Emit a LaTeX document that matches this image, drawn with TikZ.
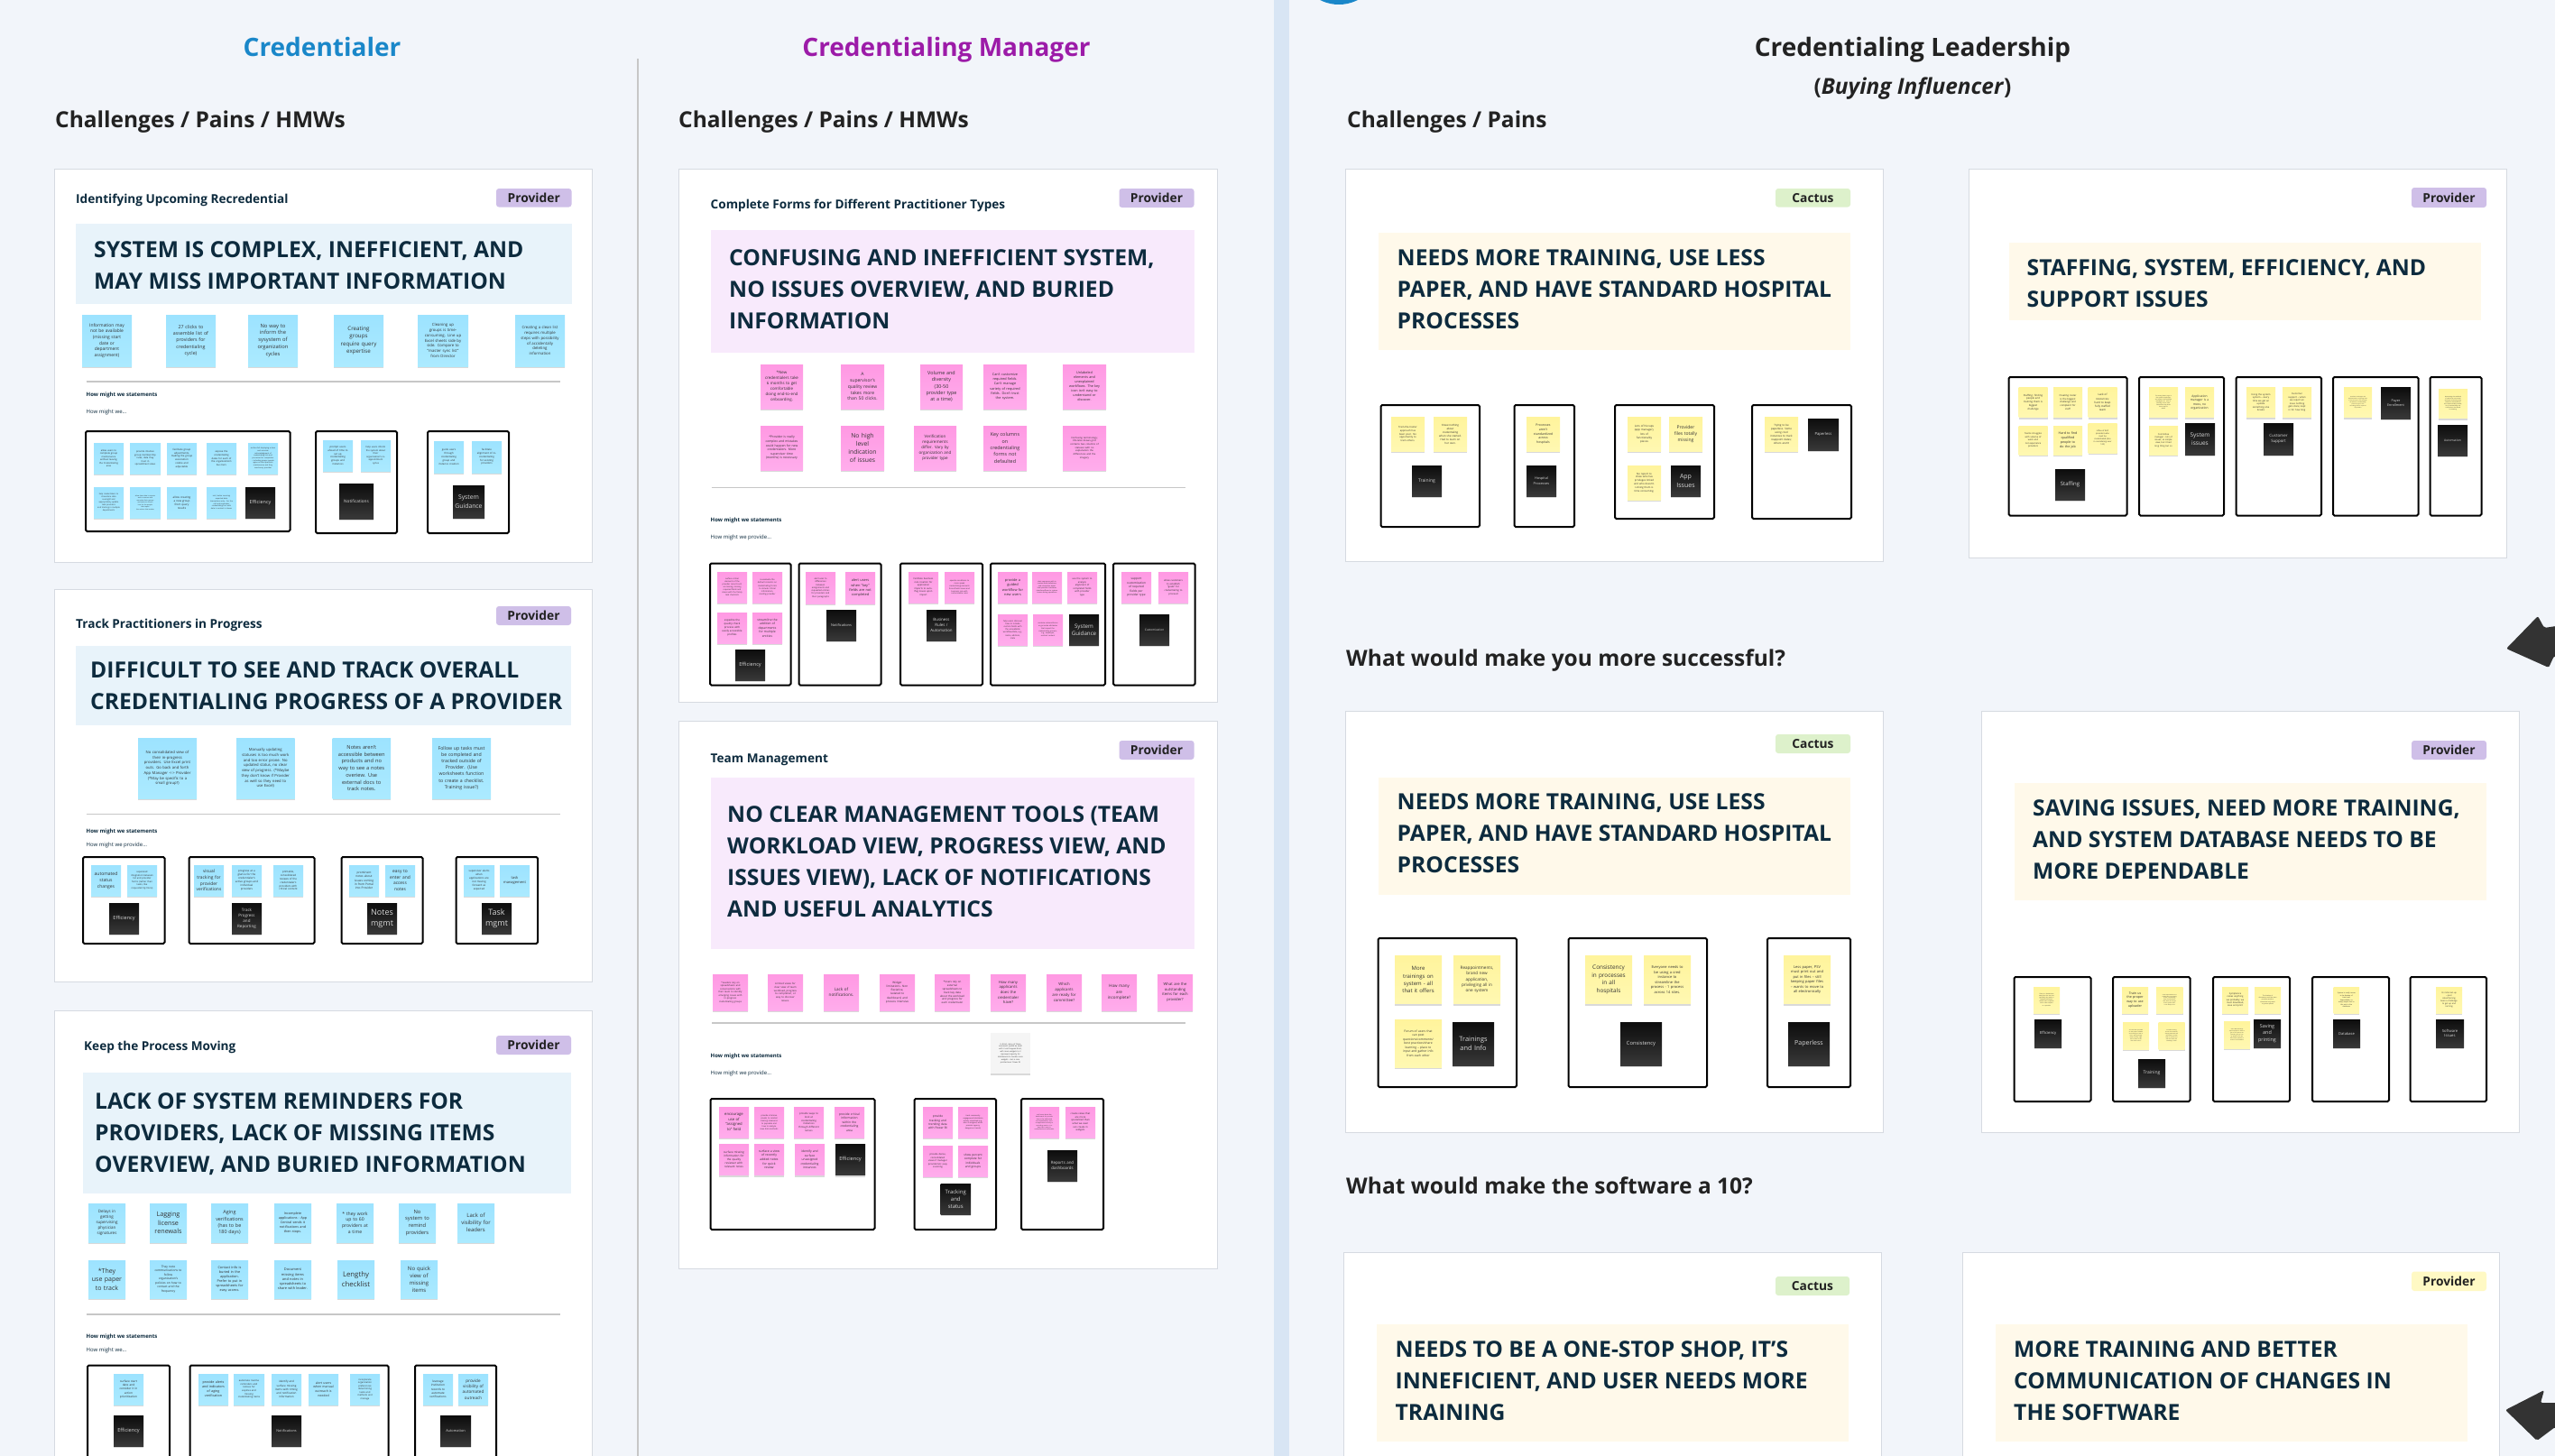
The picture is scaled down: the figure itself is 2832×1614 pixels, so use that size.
\documentclass[tikz,border=0pt]{standalone}
\usepackage{fontspec}
\setmainfont{Open Sans}
\usetikzlibrary{shadows}
\definecolor{pagebg}{HTML}{F2F5FA}
\definecolor{bandblue}{HTML}{D8E5F4}
\definecolor{cardline}{HTML}{D6DAE1}
\definecolor{navytext}{HTML}{0D2B3E}
\definecolor{heading}{HTML}{222222}
\definecolor{credblue}{HTML}{1A87C9}
\definecolor{credpurple}{HTML}{9C1BA8}
\definecolor{tagpurple}{HTML}{CFBFE8}
\definecolor{taggreen}{HTML}{DDF1CB}
\definecolor{tagyellow}{HTML}{FFF9C4}
\definecolor{banblue}{HTML}{E8F3FA}
\definecolor{banpink}{HTML}{F8EAFC}
\definecolor{bancream}{HTML}{FFF9EA}
\definecolor{bluetop}{HTML}{9DE3FF}
\definecolor{bluebot}{HTML}{ABEAFF}
\definecolor{pinktop}{HTML}{FF99E3}
\definecolor{pinkbot}{HTML}{FFADEC}
\definecolor{yellowtop}{HTML}{FFF49C}
\definecolor{yellowbot}{HTML}{FFF8B2}
\definecolor{notegrey}{HTML}{F5F5F5}
\tikzset{
  sized/.style 2 args={minimum width=#1pt, minimum height=#2pt},
  plate/.style={anchor=north west, inner sep=0pt, outer sep=0pt},
  card/.style={plate, fill=white, draw=cardline, line width=1pt},
  group/.style={plate, fill=white, draw=black, line width=2pt, rounded corners=1.5pt},
  tag/.style={plate, rounded corners=3pt, text=heading, font=\bfseries\fontsize{13.8}{16}\selectfont},
  head/.style={anchor=west, inner sep=0pt, align=left, text=navytext, font=\bfseries\fontsize{24.65}{35}\selectfont},
  cardtitle/.style={anchor=base west, inner sep=0pt, text=navytext, font=\bfseries\fontsize{13.6}{16}\selectfont},
  section/.style={anchor=base west, inner sep=0pt, text=heading, font=\bfseries\fontsize{24.5}{30}\selectfont},
  column/.style={anchor=base, inner sep=0pt, font=\bfseries\fontsize{28}{34}\selectfont},
  small/.style={anchor=west, inner sep=0pt, text=navytext, font=\fontsize{6}{8}\selectfont},
  shadowed/.style={drop shadow={shadow xshift=0pt, shadow yshift=-2pt, opacity=.15, fill=black}},
  note/.style={plate, align=center, text=black!80, shadowed},
  bluenote/.style={note, top color=bluetop, bottom color=bluebot},
  pinknote/.style={note, top color=pinktop, bottom color=pinkbot},
  yellownote/.style={note, top color=yellowtop, bottom color=yellowbot},
  greynote/.style={note, fill=notegrey},
  darknote/.style={note, top color=black!95, bottom color=black!78, text=white!85!black},
  rule/.style={draw=black!22, line width=1.2pt}
}
\newcommand{\notes}[3]{%
  \foreach \nx/\ny/\nw/\nh/\ns/\txt [count=\idx] in {#3} {
    \node[#1, sized={\nw}{\nh}, text width=\nw pt, font=\fontsize{\ns}{\fpeval{1.36*\ns}}\selectfont] (#2\idx) at (\nx,\ny) {\txt};
  }}
\begin{document}
\begin{tikzpicture}[x=1pt, y=-1pt]
    \path[use as bounding box, clip] (0,0) rectangle (2832,1614);
    \fill[pagebg] (0,0) rectangle (2832,1614);

    % Column separators
    \draw[rule, line width=1.5pt] (707,65) -- (707,1614);
    \fill[bandblue] (1411.5,0) rectangle (1428.5,1614);
    \fill[credblue] (1484,-41) circle (46);

    % Column titles
    \node[column, text=credblue] (credentialer) at (357,62) {Credentialer};
    \node[column, text=credpurple] (manager) at (1049,62) {Credentialing Manager};
    \node[column, text=heading] (leadership) at (2120,62) {Credentialing Leadership};
    \node[inner sep=0pt, text=heading, font=\bfseries\fontsize{24.4}{28}\selectfont] (buying) at (2120,98.5) {(\textit{Buying Influencer})};

    % Section labels
    \foreach \name/\x/\y/\label in {secA/61/141/{Challenges / Pains / HMWs}, secB/752/141/{Challenges / Pains / HMWs}, secC/1493/141/{Challenges / Pains}, secD/1492/738/{What would make you more successful?}, secE/1492/1323/{What would make the software a 10?}} {
        \node[section] (\name) at (\x,\y) {\label};
    }

    % Cards
    \foreach \name/\x/\y/\w/\h in {cardA/60.5/187/596/436, cardB/60.5/653/596/435, cardC/60.5/1120/596/600, cardD/752/187/597/591, cardE/752/799/597/607, cardF/1491/187/596/435, cardG/2182.5/187/596/431.5, cardH/1491/788/596/467, cardI/2196.5/788/595.5/467, cardJ/1489.5/1388/595.5/300, cardK/2175/1388/595.5/300} {
        \node[card, sized={\w}{\h}] (\name) at (\x,\y) {};
    }

    % Banners
    \foreach \name/\x/\y/\w/\h/\col in {banA/84/248/549.5/89/banblue, banB/84/716/549/88/banblue, banC/92/1189/540.5/134/banblue, banD/787.5/255/536/136/banpink, banE/787.5/861.5/536/190.5/banpink, banF/1528/258/523/130/bancream, banG/2227/268.5/523/86/bancream, banH/1528/861.5/523/130/bancream, banI/2233/868/523/130/bancream, banJ/1526/1468/523/130/bancream, banK/2212/1468/523/130/bancream} {
        \node[plate, fill=\col, sized={\w}{\h}] (\name) at (\x,\y) {};
    }

    % Banner statements
    \foreach \name/\x/\y/\label in {
        headA/104/294.5/{SYSTEM IS COMPLEX, INEFFICIENT, AND\\MAY MISS IMPORTANT INFORMATION},
        headB/100/760.5/{DIFFICULT TO SEE AND TRACK OVERALL\\CREDENTIALING PROGRESS OF A PROVIDER},
        headC/105/1257.5/{LACK OF SYSTEM REMINDERS FOR\\PROVIDERS, LACK OF MISSING ITEMS\\OVERVIEW, AND BURIED INFORMATION},
        headD/808/321/{CONFUSING AND INEFFICIENT SYSTEM,\\NO ISSUES OVERVIEW, AND BURIED\\INFORMATION},
        headE/806/955/{NO CLEAR MANAGEMENT TOOLS (TEAM\\WORKLOAD VIEW, PROGRESS VIEW, AND\\ISSUES VIEW), LACK OF NOTIFICATIONS\\AND USEFUL ANALYTICS},
        headF/1548.5/320.5/{NEEDS MORE TRAINING, USE LESS\\PAPER, AND HAVE STANDARD HOSPITAL\\PROCESSES},
        headG/2246.5/314/{STAFFING, SYSTEM, EFFICIENCY, AND\\SUPPORT ISSUES},
        headH/1548.5/924/{NEEDS MORE TRAINING, USE LESS\\PAPER, AND HAVE STANDARD HOSPITAL\\PROCESSES},
        headI/2253/930.5/{SAVING ISSUES, NEED MORE TRAINING,\\AND SYSTEM DATABASE NEEDS TO BE\\MORE DEPENDABLE},
        headJ/1546.5/1530.5/{NEEDS TO BE A ONE-STOP SHOP, IT'S\\INNEFICIENT, AND USER NEEDS MORE\\TRAINING},
        headK/2232/1530.5/{MORE TRAINING AND BETTER\\COMMUNICATION OF CHANGES IN\\THE SOFTWARE}} {
        \node[head] (\name) at (\x,\y) {\label};
    }

    % Card titles
    \foreach \name/\x/\y/\label in {titleA/84/225/{Identifying Upcoming Recredential}, titleB/84/696/{Track Practitioners in Progress}, titleC/93/1164/{Keep the Process Moving}, titleD/787.5/231.5/{Complete Forms for Different Practitioner Types}, titleE/787.5/845/{Team Management}} {
        \node[cardtitle] (\name) at (\x,\y) {\label};
    }

    % Tags
    \foreach \name/\x/\y/\w/\h/\col/\label in {tagA/550/209/83.5/20.5/tagpurple/Provider, tagB/550/672/83/21/tagpurple/Provider, tagC/550/1148/83/21/tagpurple/Provider, tagD/1240.5/209/83/21/tagpurple/Provider, tagE/1240.5/821/83/21/tagpurple/Provider, tagF/1968/209/83/20.5/taggreen/Cactus, tagG/2673/208/83/22/tagpurple/Provider, tagH/1968/814/83/21/taggreen/Cactus, tagI/2673/821/83/21/tagpurple/Provider, tagJ/1968/1415/82/21/taggreen/Cactus, tagK/2673/1409.5/83/21.5/tagyellow/Provider} {
        \node[tag, fill=\col, sized={\w}{\h}] (\name) at (\x,\y) {\label};
    }

    % Dividers
    \foreach \xa/\xb/\y in {95.5/621/423, 95.5/620.5/902.5, 95.5/620.5/1457, 788.5/1314/540.5, 789/1314/1134} {
        \draw[rule] (\xa,\y) -- (\xb,\y);
    }

    % How might we labels
    \foreach \name/\x/\y/\label in {hmwA/95.5/437.5/How might we statements, hmwB/95.5/922/How might we statements, hmwC/95.5/1482/How might we statements, hmwD/787.5/577/How might we statements, hmwE/787.5/1171/How might we statements} {
        \node[small, font=\bfseries\fontsize{6}{8}\selectfont] (\name) at (\x,\y) {\label};
    }
    \foreach \name/\x/\y/\label in {subA/95.5/457/{How might we\ldots}, subB/95.5/937/{How might we provide\ldots}, subC/95.5/1497/{How might we\ldots}, subD/787.5/595.5/{How might we provide\ldots}, subE/787.5/1190/{How might we provide\ldots}} {
        \node[small] (\name) at (\x,\y) {\label};
    }

    % Group frames
    \foreach \name/\x/\y/\w/\h in {
        grpAa/95/478/226.5/111, grpAb/350/478/90/113, grpAc/474/478/90/113,
        grpBa/92/950/90.5/96, grpBb/209.5/950/139/96, grpBc/378.5/950/90/96, grpBd/505.5/950/90.5/96,
        grpCa/97/1513.5/91/150, grpCb/210.5/1513.5/220/150, grpCc/460/1513.5/90/150,
        grpDa/787/624.5/89.5/135, grpDb/885.5/624.5/91/135, grpDc/998/624.5/91/135, grpDd/1098/624.5/127/135, grpDe/1234/624.5/90.5/135,
        grpEa/787.5/1218/182/145, grpEb/1013.5/1218/90.5/145, grpEc/1132/1218/91/145,
        grpFa/1530.5/449/109.5/135, grpFb/1678.5/449/66.5/135, grpFc/1790/449/110/126, grpFd/1942/449/110/126,
        grpGa/2226.5/418/131/153.5, grpGb/2371/418/94/153.5, grpGc/2478.5/418/94.5/153.5, grpGd/2586/418/94.5/153.5, grpGe/2693.5/418/57/153.5,
        grpHa/1527.5/1040/153.5/165, grpHb/1738.5/1040/153.5/165, grpHc/1959/1040/92/165,
        grpIa/2232.5/1083/85/138, grpIb/2342/1083/85.5/138, grpIc/2453/1083/85/138, grpId/2563/1083/85/138, grpIe/2671.5/1083/84.5/138} {
        \node[group, sized={\w}{\h}] (\name) at (\x,\y) {};
    }

    % Credentialer stickies
    \notes{bluenote}{noteA}{
        91/349/55/57/4.9/{Information may\\not be available\\(missing start\\date or\\department\\assignment)},
        184/349/55/57/5.3/{27 clicks to\\assemble list of\\providers for\\credentialing\\cycle)},
        275/349/55/57/5.8/{No way to\\inform the\\sysystem of\\organization\\cycles},
        370/349/55/57/6.2/{Creating\\groups\\require query\\expertise},
        463/349/56/57/4.3/{Cleaning up\\groups is time-\\consuming. Line up\\Excel sheets side by\\side. Compare to\\``master sync list''\\from Director},
        571/349/55/57/4.3/{Creating a clean list\\requires multiple\\steps with possibility\\of accidentally\\deleting\\information}}
    \notes{bluenote}{noteAa}{
        104/491/33/34/2.6/{allow users to\\complete group\\maintenance\\without leaving\\the Credentialing\\area},
        144/491/34/34/2.6/{provide intuitive\\group membership\\rules; data they\\trust in\\spreadsheet views},
        185/491/33/34/2.8/{facilitate group\\adjustments,\\making the group\\association\\visible and\\adjustable},
        229/491/33/34/2.7/{expose the\\credentialing\\dates for each of\\the organization's\\bus tiers},
        275/491/33/34/2/{surface full displaying a clear\\and accurate\\acknowledgment of\\credentialing lists and\\processes for completion\\-- including groups people\\agree on best practices\\maintenance and they\\need every provider},
        104/540/33/34/2.2/{help credentialers to\\streamline data\\oversight and\\appropriately update\\task providers\\and tracking in multiple\\departments},
        144/540/34/34/1.8/{allow clear data in reports\\and to remove and\\associate their groups\\and tasks to correct\\lists for the people\\that report\\the actions that matter},
        185/540/33/34/3/{allow creating\\a new group\\from query\\results},
        229/540/33/34/2/{visit, better sourcing\\exported data\\transactions only -- for the\\call and responder\\credentialing tool with\\data in context is shown}}
    \notes{darknote}{darkAa}{272/540/33/34/5.4/Efficiency}
    \notes{bluenote}{noteAb}{
        358/488/33/34/2.8/{prompt users\\ahead of time to\\set up\\credentialing\\groups and\\instances},
        400/488/33/34/2.6/{help users inform\\the system about\\their\\organization's re-\\appointment\\cycles}}
    \notes{darknote}{darkAb}{376/536/38/39/4.7/Notifications}
    \notes{bluenote}{noteAc}{
        481/489/33/35/2.8/{guide users\\through\\credentialing\\group and\\instance creation},
        523/489/33/35/2.8/{facilitate\\alignment of re-\\credentialing\\for existing\\providers}}
    \notes{darknote}{darkAc}{502/538/35/36/6.8/{System\\Guidance}}

    \notes{bluenote}{noteB}{
        153/818/65/67/4.2/{No consolidated view of\\their in-progress\\providers. Use Excel print\\outs. Go back and forth\\App Manager <-> Provider\\(*May be specific to a\\small group?)},
        262/818/64.5/67/4.2/{Manually updating\\statuses is too much work\\and too error prone. No\\updated status, no clear\\view of progress. (*Maybe\\they don't know if Provider\\as well so they need to\\use Excel)},
        368.5/818/64.5/67/5.7/{Notes aren't\\accessible between\\products and no\\way to see a notes\\overiew. Use\\external docs to\\track notes.},
        479/818/65/67/5.2/{Follow up tasks must\\be completed and\\tracked outside of\\Provider. (Use\\worksheets function\\to create a checklist.\\Training issue?)}}
    \notes{bluenote}{noteBa}{
        101/959/33/34/5/{automated\\status\\changes},
        141/959/33/34/2.6/{separated\\integration between\\list and provider\\forms (rather than\\tasks, like\\requested by Ilona)}}
    \notes{darknote}{darkBa}{121/1001/33/34/5.5/Efficiency}
    \notes{bluenote}{noteBb}{
        215/959/33/34/4.9/{visual\\tracking for\\provider\\verifications},
        257/959/33/34/3/{progress at a\\glance for the\\credentialer's\\active groups and\\individual\\providers},
        303/959/33/34/2.9/{printable,\\consolidated\\reviews of the\\credentialer's\\providers with\\critical content}}
    \notes{darknote}{darkBb}{257/1001/33/34/4.5/{Track\\Progress\\and\\Reporting}}
    \notes{bluenote}{noteBc}{
        387/959/33/34/3.2/{prominent\\notes about\\issues coming\\in from Portal\\into Provider},
        427/959/33/34/4.9/{easy to\\enter and\\access\\notes}}
    \notes{darknote}{darkBc}{407/1001/33/34/9/{Notes\\mgmt}}
    \notes{bluenote}{noteBd}{
        514/959/34/34/2.9/{supervisor alerts\\when\\applications are\\not moving\\forward as\\expected},
        554/959/33/34/4/{task\\management}}
    \notes{darknote}{darkBd}{534/1001/33/34/9/{Task\\mgmt}}

    \notes{bluenote}{noteC}{
        98/1334/41/43/4.5/{Delays in\\getting\\supervising\\physician\\signatures},
        166/1334/41/43/7.2/{Lagging\\license\\renewals},
        234/1334/41/43/5.4/{Aging\\verifications\\(has to be\\180 days)},
        304/1334/41/43/3.7/{Incomplete\\applications - App\\Central sends it\\notifications and\\then stops.},
        373/1334/41/43/5.1/{* they work\\up to 60\\providers at\\a time},
        442/1334/41/43/5.8/{No\\system to\\remind\\providers},
        507/1334/41/43/6/{Lack of\\visibility for\\leaders},
        98/1397/41/42/7/{*They\\use paper\\to track},
        166/1397/41/42/3.3/{They note\\communications to\\follow\\organization's\\policies on how to\\contact and the\\frequency},
        234/1397/41/42/3.8/{Contact info is\\buried in the\\application.\\Prefer to put in\\spreadsheets for\\easy access.},
        304/1397/41/42/3.9/{Document\\missing items\\and notes in\\spreadsheets to\\share with leader.},
        374/1397/41/42/7.8/{Lengthy\\checklist},
        444/1397/41/42/6/{No quick\\view of\\missing\\items}}
    \notes{bluenote}{noteCa}{126/1523/33/34/3.2/{surface start\\date and\\consider it in\\action\\prioritization}}
    \notes{darknote}{darkCa}{126/1569/33/34/5.6/Efficiency}
    \notes{bluenote}{noteCb}{
        220/1523/33/34/3.7/{provide alerts\\and indicators\\of aging\\verification},
        259/1523/34/34/2.7/{automate routine\\reminders and\\notices for\\expiries and\\missing\\credentialing items},
        301/1523/33/34/3/{identify and\\surface missing\\items with timing\\and notification\\information},
        342/1523/33/34/3.5/{alert users\\when manual\\outreach is\\needed},
        388/1523/33/34/2.6/{incorporate\\organization\\preferences\\determining\\tasks and\\methods and\\manage}}
    \notes{darknote}{darkCb}{301/1569/33/34/3.8/Notifications}
    \notes{bluenote}{noteCc}{
        469/1523/33/34/3.2/{leverage\\institution\\records to\\automate\\verifications},
        508/1523/33/34/4.6/{provide\\visibility of\\automated\\outreach}}
    \notes{darknote}{darkCc}{488/1569/34/34/3.9/Automation}

    % Manager stickies
    \notes{pinknote}{noteD}{
        843/404/47/49/4.4/{*New\\credentialers take\\6 months to get\\comfortable\\doing end-to-end\\onboarding.},
        932/404/48/49/5/{A\\supervisor's\\quality review\\takes more\\than 50 clicks.},
        1020/404/47/49/5.4/{Volume and\\diversity\\(30-50\\provider type\\at a time)},
        1090/404/48/49/3.8/{Can't customize\\required fields.\\Can't manage\\variety of required\\fields. Don't trust\\the system.},
        1178/404/48/49/3.7/{Unlabeled\\elements and\\unexplained\\workflows. The key\\icon isn't easy to\\understand or\\discover.},
        843/472/47/49/3.4/{*Provider is really\\complex and mistakes\\could happen for new\\credentialers. More\\supervisor time\\(months) is necessary},
        932/472/48/49/6.8/{No high\\level\\indication\\of issues},
        1013/472/47/49/4.5/{Verification\\requirements\\differ. Vary by\\organization and\\provider type},
        1090/472/48/49/5.4/{Key columns\\on\\credentialing\\forms not\\defaulted},
        1178/472/48/49/2.7/{Confusing terminology;\\Ellorelse knows grid\\contains two columns of\\statuses with no\\explanation the\\differences and the\\imagery}}
    \notes{pinknote}{noteDa}{
        795/634/33/34/2.2/{surface critical\\elements of the\\provider record such\\as missing, missing\\required fields and\\issues with the family\\task checklists},
        834/634/33/34/2.3/{re-evaluate the\\default columns on\\credentialing forms\\to include critical\\information,\\reading provider},
        795/679/33/34/2.9/{expedite the\\quality check\\process with\\easily accessible\\profiles},
        834/679/33/34/3.3/{streamline the\\addition of\\departments\\for multiple\\entities}}
    \notes{darknote}{darkDa}{815/720/33/34/5.6/Efficiency}
    \notes{pinknote}{noteDb}{
        893/634.5/33/34.5/2.4/{alert user to\\differences\\between\\assignments and\\requested entries\\for providers and\\their paragraphs},
        937/634.5/33/34.5/3.9/{alert users\\when ``key''\\fields are not\\completed}}
    \notes{darknote}{darkDb}{916/676/33/34/3.9/Notifications}
    \notes{pinknote}{noteDc}{
        1007/634/33/34/2.6/{facilitate business\\rule creation for\\application\\imports to auto-\\flag issues upon\\import},
        1047/634/33/34/2.1/{operate conditions to\\more speak\\credentialing elements\\forms/fields issues and\\business rule with\\customizable rules}}
    \notes{darknote}{darkDc}{1027/676/33/34/4.4/{Business\\Rules /\\Automation}}
    \notes{pinknote}{noteDd}{
        1106/634/33/34/3.9/{provide a\\guided\\workflow for\\new users},
        1144/634/33/34/1.9/{alert new users with in\\context field definitions\\and interactive about\\how provider interfaces\\interfaces/flows to system\\issues during operations},
        1183/634/33/34/2.6/{use the system to\\analyze\\alignment of\\completed fields\\with provider\\type},
        1106/681/33/34/2.3/{help users discover\\how to include\\custom fields with\\the unavailable\\workflow/data, e.g.,\\name, address,\\state},
        1145/681/33/34/2/{combine column/forms\\or go inside attributes\\that impact the\\credentialing process,\\e.g., employee,\\contract content}}
    \notes{darknote}{darkDd}{1185/681/33/34/6.2/{System\\Guidance}}
    \notes{pinknote}{noteDe}{
        1243/634/33/34/3.2/{support\\customization\\of required\\fields per\\provider type},
        1284/634/33/34/2.7/{allow customers\\to establish\\``goals'' for\\credentialing to\\proceed}}
    \notes{darknote}{darkDe}{1263/681/33/34/3.2/Customization}

    \notes{pinknote}{noteE}{
        790/1080/39/40/2.6/{*Leaders rely on\\spreadsheets and\\conversations with\\their team to identify\\emerging issues with\\in-progress\\credentialing groups},
        851/1080/39/40/2.8/{Limited views for\\clear view of team\\workload, progress\\to completion, or\\way to discover\\issues.},
        913/1080/39/40/4.6/{Lack of\\notifications.},
        975/1080/39/40/3.1/{Widget\\limitations. Non\\flexiative,\\isolated to\\dashboard, and\\process intensive},
        1036/1080/39/40/2.9/{*Users rely on\\external\\spreadsheets to\\track key data\\about the workload\\and progress for\\each credentialer},
        1098/1080/39/40/4.2/{How many\\applicants\\does the\\credentialer\\have?},
        1160/1080/39/40/4.3/{Which\\applicants\\are ready for\\committee?},
        1221/1080/39/40/4.5/{How many\\are\\incomplete?},
        1283/1080/39/40/4.2/{What are the\\outstanding\\items for each\\provider?}}
    \notes{greynote}{noteEn}{1098/1145/44/45/2.1/{In Ernst, many of those\\comments would be dealt\\with it via Dropped Ernst,\\with more widgets to it\\improved capacity for\\dashboards to handle more\\widgets -- but a core\\pointed over Power BI}}
    \notes{pinknote}{noteEa}{
        797/1227/33/34/4.2/{encourage\\use of\\``assigned\\to'' field},
        836/1227/33/34/2.2/{provide intensive\\visuals to combat\\training measures\\to populate and\\how to analyze\\view data methods},
        880/1227/33/34/2.8/{provide ways to\\look at\\credentialing\\instances\\through different\\lenses},
        925/1227/33/34/3.3/{provide critical\\information\\within the\\credentialing\\area},
        797/1268/33/34.5/3.1/{surface missing\\information for\\the quality\\reviewer with\\relevant notes},
        836/1268/33/34.5/3.4/{surface a view\\of recently\\added notes\\for quick\\review},
        881/1268/33/34.5/3.3/{identify and\\surface\\unassigned\\credentialing\\instances}}
    \notes{darknote}{darkEa}{926/1268/33/34.5/5.6/Efficiency}
    \notes{pinknote}{noteEb}{
        1023/1227/33/34/3.2/{provide\\tracking and\\trending data\\with Power BI},
        1062/1227/33/34/2/{track community\\engagement/stats/data\\activity visualized (e.g.,\\who is assigned, who's\\provider agency,\\dangerous trends)},
        1023/1270/33/34/2.6/{provide dense,\\consolidated\\views if manager\\provider/etc easy\\scanning},
        1062/1270/33/34/3.2/{show percent\\complete for\\individuals\\and groups}}
    \notes{darknote}{darkEb}{1042.5/1312/33.5/34/6/{Tracking\\and\\status}}
    \notes{pinknote}{noteEc}{
        1141/1227/33/34/1.7/{add more about the\\dashboards for provide\\stats to be addressed\\and visualization, such\\as application activity to\\spending metrics, in a\\way that is easy to\\understand and actionable},
        1181/1227/33/34/2.7/{create views that\\are more\\specialized than\\what we even\\can create in\\widgets}}
    \notes{darknote}{darkEc}{1161/1275/33/34/4.4/{Reports and\\dashboards}}

    % Leadership stickies
    \notes{yellownote}{noteFa}{
        1542/462.5/37/37.5/2.7/{Train-the-trainer\\approach has\\been poor. No\\opportunity to\\train others.},
        1589/462.5/37/37.5/2.9/{Knew nothing\\about\\credentialing\\when she started.\\Had to learn on\\her own.}}
    \notes{darknote}{darkFa}{1565/516/33/34/5/Training}
    \notes{yellownote}{noteFb}{1692/462.5/37/37.5/3.5/{Processes\\aren't\\standardized\\across\\hospitals}}
    \notes{darknote}{darkFb}{1692/516/33/34/3.8/{Hospital\\Processes}}
    \notes{yellownote}{noteFc}{
        1804/462.5/37/37.5/3/{Lots of hiccups\\(app manager),\\lots of\\functionality\\pieces},
        1850/462.5/37/37.5/5/{Provider\\files totally\\missing},
        1804/516/37/38/2.8/{No report to\\show who has\\privileges linked\\and who doesn't.\\Linking them is\\time consuming.}}
    \notes{darknote}{darkFc}{1852/516/33/34/7/{App\\Issues}}
    \notes{yellownote}{noteFd}{1956/462.5/37/37.5/2.9/{Trying to be\\paperless. Some\\using cred\\instances to track\\reappoint dates;\\others aren't}}
    \notes{darknote}{darkFd}{2004/464/34/35/4.2/Paperless}

    \notes{yellownote}{noteGa}{
        2237.5/429.5/32/33/2.8/{Staffing: finding\\people and\\training them is\\biggest\\challenge},
        2276/429.5/32/33/2.7/{Creating roster\\is the biggest\\challenge and\\complaint for\\staff},
        2314.5/429.5/32/33/3/{Lack of\\resources;\\hard to keep\\fully staffed\\team},
        2237.5/472/32/32/2.5/{Teams struggles\\with volume of\\work and\\not experience\\providers},
        2276/472/32/32/3.6/{Hard to find\\qualified\\people to\\do the job},
        2314.5/469/32/33/2.2/{Influx of EAP\\providers who\\must be\\credentialed (also\\in considering over\\120)}}
    \notes{darknote}{darkGa}{2278/520/33/34/6/Staffing}
    \notes{yellownote}{noteGb}{
        2382/429.5/32/33/1.5/{Too many places to go in\\the system; duplication\\and repeat; and workflow\\managers, etc. a lot of\\learning; it's an issue.\\Sometimes they know\\there may be\\where},
        2422/429.5/32/33/3.3/{Application\\manager is a\\mess, no\\organization},
        2382/472/32/32/2.4/{Committee\\manager - lots of\\issues; so simple\\view, but it tied\\long thing but so}}
    \notes{darknote}{darkGb}{2422/469/33/35/6.5/{System\\issues}}
    \notes{yellownote}{noteGc}{
        2490/429.5/32/33/2.6/{Using the system\\system -- every\\time we get an\\update\\something else\\breaks},
        2530/429.5/32/33/2.6/{Customer\\support -- when\\we report an\\issue nothing\\gets done; kept\\in for how long}}
    \notes{darknote}{darkGc}{2509/469/33/35/4.4/{Customer\\Support}}
    \notes{yellownote}{noteGd}{2598/429.5/31/33/1.4/{Transform challenges and\\implementation of getting done\\in the process to sort through\\the portal; be credentialing\\process to get to the\\recording, what is required\\of providers}}
    \notes{darknote}{darkGd}{2639/429.5/33/34.5/3.7/{Payer\\Enrollment}}
    \notes{yellownote}{noteGe}{2703/431/32/32.5/1.5/{Automating the workload\\of tasks that are manual\\and time consuming; they\\should be automated to\\the recommended provider,\\list of credentialing and\\notifications that would\\be amazing}}
    \notes{darknote}{darkGe}{2702/471/33/34/3.4/Automation}

    \notes{yellownote}{noteHa}{
        1546/1059.5/52/53/6/{More\\trainings on\\system - all\\that it offers},
        1611/1059.5/52/53/4.6/{Reappointments,\\brand new\\application,\\privileging all in\\one system},
        1546/1130/52/53/3.3/{Forum of users that\\can post\\questions/comments/\\best practices/share\\learning -- place to\\input and gather info\\from each other}}
    \notes{darknote}{darkHa}{1610/1133/46/48/7.4/{Trainings\\and Info}}
    \notes{yellownote}{noteHb}{
        1757/1059.5/52/53/6.4/{Consistency\\in processes\\in all\\hospitals},
        1822/1059.5/52/53/4/{Everyone needs to\\be using a cred\\instance to\\streamline the\\process - 1 process\\across 14 sites.}}
    \notes{darknote}{darkHb}{1796/1133/46/48/5.8/Consistency}
    \notes{yellownote}{noteHc}{1977/1059.5/52/53/4/{Less paper, PSV\\must print out and\\put in files -- still\\keeping paper files\\-- wants to move to\\all electronically}}
    \notes{darknote}{darkHc}{1982/1133/46/48/7/Paperless}

    \notes{yellownote}{noteIa}{2254/1094/29/29/1.5/{There is a limited time\\away from the site, but\\generally they want to\\hospitals because it\\will be more complete\\with a clear request\\to a provider}}
    \notes{darknote}{darkIa}{2255/1130/30/31/4.2/Efficiency}
    \notes{yellownote}{noteIb}{
        2352/1094/29/29/3.6/{Train us\\the proper\\way to use\\uploader},
        2390/1094/29.5/29/1.4/{Some requirements are\\needed but not properly\\found; credentialing\\does not allow their\\own work; we can get\\to the system and it\\is not always clear},
        2353/1133/29/30/1.4/{To have been provided\\on the proper software\\and training on how to\\use it and get things\\done correctly, right\\now at times it isn't\\clear how to do it},
        2392.5/1133/29/30/1.4/{Consider sharing\\across the networks,\\sharing materials and\\information, review\\how to use the tool\\with the team and\\reviewing it often}}
    \notes{darknote}{darkIb}{2370/1174/30/31/5/Training}
    \notes{yellownote}{noteIc}{
        2463/1094/29/29/2.5/{Sympliance\\raises anything\\we probably; we\\must download,\\save and print},
        2499/1094/29/29/1.6/{The location of\\documents could be more\\provider saved to\\sometimes only want\\a system upload},
        2465/1132/29/30/1.4/{Some EHR meetings\\require people to have to\\get to the system, the\\provider; get you can\\go ahead; so far we\\need other systems to\\make it all worthwhile}}
    \notes{darknote}{darkIc}{2498/1130/30/31/5.4/{Saving\\and\\printing}}
    \notes{yellownote}{noteId}{2586.5/1094/28.5/29/1.9/{System is really issues\\to be beaten of\\trust and\\dependable; so\\many simple lost in\\the mix in the\\database}}
    \notes{darknote}{darkId}{2586/1130/30/31/4/Database}
    \notes{yellownote}{noteIe}{2700/1094/29/29/2.3/{Its initial set-up\\-- poor\\sales/training\\been a challenge\\to get up and\\running}}
    \notes{darknote}{darkIe}{2700/1130/31/31/4.2/{Software\\Issues}}

    % Cursors
    \fill[black!80, rounded corners=2pt] (2778,719) -- (2813,683) -- (2820,696) -- (2840,693) -- (2840,727) -- (2831,727) -- (2825,740) -- cycle;
    \fill[black!80, rounded corners=2pt] (2777,1563) -- (2820,1541) -- (2816,1555) -- (2840,1555) -- (2840,1582) -- (2832,1582) -- (2812,1597) -- cycle;
\end{tikzpicture}
\end{document}
